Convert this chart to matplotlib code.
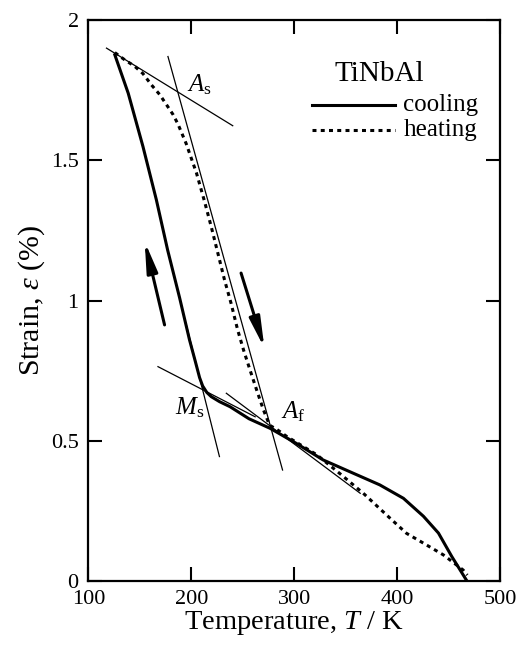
import numpy as np
import matplotlib.pyplot as plt

plt.rcParams['font.family'] = ['Liberation Serif', 'DejaVu Serif']
plt.rcParams['mathtext.fontset'] = 'custom'
plt.rcParams['mathtext.rm'] = 'Liberation Serif'
plt.rcParams['mathtext.it'] = 'Liberation Serif:italic'

# enfriamiento (linea continua)
T_cool = [467.5, 453, 440, 425.4, 406, 383, 357, 328, 302, 276.4, 256, 237.6,
          227.4, 219.3, 215, 211, 208, 203.7, 198.2, 188.6, 177, 166, 153, 138.7, 125.7]
e_cool = [0.0, 0.086, 0.17, 0.23, 0.294, 0.342, 0.384, 0.431, 0.49, 0.544, 0.578, 0.621,
          0.639, 0.657, 0.672, 0.695, 0.725, 0.785, 0.86, 1.01, 1.18, 1.36, 1.55, 1.74, 1.877]

# calentamiento (linea punteada)
T_heat = [125.7, 135, 145, 153, 161.2, 169.3, 175.7, 182.2, 187, 195, 205, 212.8,
          219.3, 225.7, 232.2, 238.6, 245, 251, 257, 263.5, 270, 276, 283, 292.6,
          322, 345, 367, 393, 409, 425.4, 444.8, 464, 468]
e_heat = [1.885, 1.86, 1.836, 1.81, 1.77, 1.735, 1.70, 1.664, 1.63, 1.56, 1.455, 1.354,
          1.264, 1.17, 1.074, 0.99, 0.895, 0.82, 0.752, 0.68, 0.61, 0.555, 0.54, 0.515,
          0.449, 0.38, 0.312, 0.223, 0.169, 0.134, 0.092, 0.038, 0.02]

# tangentes (T1, e1, T2, e2)
tangentes = [
    (117.6, 1.901, 240.2, 1.624),   # As, rama plana
    (177.3, 1.871, 288.6, 0.395),   # As / Af, rama inclinada
    (167.6, 0.764, 262.0, 0.585),   # Ms, rama plana
    (195.0, 0.915, 227.3, 0.443),   # Ms, rama inclinada
    (234.0, 0.669, 364.0, 0.312),   # Af, rama plana
]

# flechas (desde, hasta)
flechas = [((174.0, 0.913), (154.7, 1.211)),
           ((248.3, 1.098), (271.0, 0.830))]

etiquetas = [(r'$A_{\mathrm{s}}$', 196, 1.745),
             (r'$M_{\mathrm{s}}$', 184, 0.592),
             (r'$A_{\mathrm{f}}$', 287, 0.578)]

# leyenda: posiciones en datos
titulo = 'TiNbAl'
nombres = ['cooling', 'heating']
ley_y = [1.699, 1.61]

fig = plt.figure(figsize=(5.26, 6.47), dpi=100)
ax = fig.add_axes([0.168, 0.1025, 0.783, 0.866])

for T1, e1, T2, e2 in tangentes:
    ax.plot([T1, T2], [e1, e2], color='black', linewidth=0.9)

estilos = ['-', (0, (1.3, 1.4))]
ax.plot(T_cool, e_cool, color='black', linewidth=2.2, linestyle=estilos[0])
ax.plot(T_heat, e_heat, color='black', linewidth=2.2, linestyle=estilos[1])

for (x0, y0), (x1, y1) in flechas:
    ax.annotate('', xy=(x1, y1), xytext=(x0, y0),
                arrowprops=dict(arrowstyle='-|>,head_length=1.8,head_width=0.32',
                                color='black', linewidth=2.2, shrinkA=0, shrinkB=0))

for txt, x, y in etiquetas:
    ax.text(x, y, txt, fontsize=18, ha='left', va='baseline')

# leyenda dibujada a mano
ax.text(383, 1.81, titulo, fontsize=21, ha='center', va='center')
for nombre, y, ls in zip(nombres, ley_y, estilos):
    ax.plot([317, 398], [y, y], color='black', linewidth=2.2, linestyle=ls)
    ax.text(406, y, nombre, fontsize=18, ha='left', va='center')

ax.set_xlim(100, 500)
ax.set_ylim(0, 2)
ax.set_xticks([100, 200, 300, 400, 500])
ax.set_yticks([0, 0.5, 1, 1.5, 2])
ax.set_yticklabels(['0', '0.5', '1', '1.5', '2'])
ax.tick_params(direction='in', length=10, width=1.5, labelsize=16, top=True, right=True,
               pad=7)
for s in ax.spines.values():
    s.set_linewidth(1.6)

ax.set_xlabel(r'Temperature, $T$ / K', fontsize=20.5, labelpad=0)
ax.set_ylabel(r'Strain, $\varepsilon$ (%)', fontsize=21.5, labelpad=3)

fig.savefig('out.png', dpi=100)
